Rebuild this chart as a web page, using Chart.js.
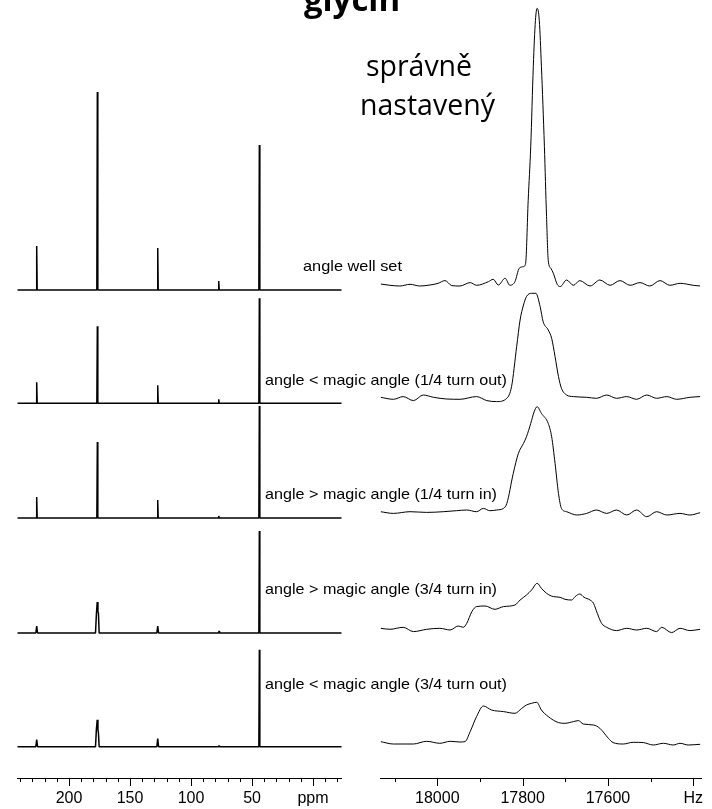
<!DOCTYPE html>
<html>
<head>
<meta charset="utf-8">
<script src="https://cdn.jsdelivr.net/npm/chart.js@4.4.1/dist/chart.umd.min.js"></script>
<style>
  html, body { margin: 0; padding: 0; background: #fff; }
  #wrap { position: relative; width: 712px; height: 809px; overflow: hidden; background: #fff; }
  #wrap canvas { position: absolute; top: 0; }
  #cvL { left: 0; }
  #cvR { left: 360px; }
  #txt { position: absolute; left: 0; top: 0; pointer-events: none; }
</style>
</head>
<body>
<div id="wrap">
  <canvas id="cvL" width="360" height="809" style="width:360px;height:809px"></canvas>
  <canvas id="cvR" width="352" height="809" style="width:352px;height:809px"></canvas>
  <svg id="txt" width="712" height="809" xmlns="http://www.w3.org/2000/svg">
    <g font-family="'Open Sans', 'DejaVu Sans', sans-serif" fill="#000" text-anchor="middle">
      <text x="352" y="11" font-size="33" font-weight="bold">glycin</text>
      <text x="419" y="76" font-size="28.5">správně</text>
      <text x="427.5" y="115" font-size="28.5">nastavený</text>
    </g>
    <g id="specLabels" font-family="'Liberation Sans', Arial, sans-serif" font-size="15" fill="#000"></g>
  </svg>
</div>
<script>
// ---- 13C CP/MAS spectra of glycine (ppm), five rotor-angle settings ----
const ppmSharp = [242.4, 226.9, 226.5, 226.1, 177.2, 176.8, 176.4, 127.7, 127.3, 126.9, 77.7, 77.3, 76.9, 44.4, 44.0, 43.6, -23.5];
const ppmBroad = [242.4, 227.2, 226.5, 225.8, 178.3, 177.6, 176.9, 176.3, 175.9, 175.3, 128.0, 127.3, 126.6, 77.4, 77.0, 76.6, 44.4, 44.0, 43.6, -23.5];

const intWellSet    = [0, 0, 44, 0, 0, 198, 0, 0, 42, 0, 0, 9, 0, 0, 145, 0, 0];
const intQuarterOut = [0, 0, 21, 0, 0, 77, 0, 0, 18, 0, 0, 4, 0, 0, 105, 0, 0];
const intQuarterIn  = [0, 0, 21, 0, 0, 76, 0, 0, 18, 0, 0, 2, 0, 0, 112, 0, 0];
const intThreeIn    = [0, 0, 7, 0, 0, 18, 31, 21, 20, 0, 0, 7, 0, 0, 2, 0, 0, 102, 0, 0];
const intThreeOut   = [0, 0, 7, 0, 0, 17, 27, 17, 14, 0, 0, 8, 0, 0, 1, 0, 0, 97, 0, 0];

// ---- carbonyl line (Hz) for the same five settings ----
const hzWellSet   = [18133, 18111, 18088, 18064, 18041, 18017, 17998, 17982, 17966, 17947, 17923, 17908, 17880, 17869, 17857, 17841, 17830, 17818, 17808, 17798, 17793, 17787, 17781, 17775, 17770, 17766, 17761, 17756, 17749, 17744, 17740, 17734, 17728, 17719, 17712, 17697, 17681, 17666, 17642, 17619, 17595, 17572, 17548, 17525, 17502, 17478, 17455, 17431, 17400, 17384];
const lineWellSet = [1.3, 0, -0.7, 1, -0.7, 0.3, 2, 4.7, -0.3, -0.7, 2.7, 0, 3.7, 6, 0.3, 7, 0, 3.7, 17, 18.7, 22, 85, 139, 219, 265, 277, 265, 219, 139, 69, 25, 17, 12, 1, -1.3, 5.3, 0, 4.7, -0.7, 5.3, 0, 4.7, 0, 2.7, -0.7, 4.7, 0, 2, 0, -0.7];

const hzQuarterOut   = [18133, 18103, 18080, 18056, 18033, 18009, 17978, 17947, 17908, 17884, 17861, 17837, 17826, 17814, 17806, 17798, 17791, 17779, 17769, 17759, 17752, 17740, 17732, 17724, 17716, 17709, 17697, 17681, 17650, 17627, 17603, 17580, 17556, 17533, 17509, 17486, 17462, 17439, 17408, 17384];
const lineQuarterOut = [1, -1, 1.7, -2.3, 3.3, 1, -0.7, -1, 1.7, -2.3, -3.3, 0, 11.7, 51.7, 78.3, 93.3, 101.7, 105, 105, 91.7, 76.7, 68.3, 60, 41.7, 21.7, 10, 3.3, 1.7, 1, 0, 3.3, 0, 1.7, -1, 3.3, 0, 1.7, -1, 1, 1.7];

const hzQuarterIn   = [18133, 18103, 18064, 18025, 17986, 17955, 17931, 17908, 17892, 17877, 17861, 17845, 17837, 17822, 17810, 17798, 17791, 17781, 17773, 17766, 17756, 17740, 17732, 17724, 17716, 17709, 17697, 17673, 17650, 17627, 17603, 17580, 17556, 17533, 17509, 17486, 17462, 17431, 17408, 17384];
const lineQuarterIn = [0, -1.7, 0, -0.7, 0, 1, 1.7, 0, 3.3, 1, 1.7, 3.3, 8.3, 38.3, 58.3, 68.3, 75, 88.3, 100, 105, 98.3, 88.3, 75, 48.3, 18.3, 3.3, 0, -3.3, -1.7, 1.7, -1.7, 1.7, -3.3, 1.7, -5, 0, -3.3, -1.7, -3.3, -1];

const hzThreeIn   = [18133, 18111, 18080, 18056, 18025, 17994, 17970, 17951, 17939, 17931, 17919, 17908, 17888, 17865, 17845, 17818, 17806, 17791, 17779, 17766, 17756, 17744, 17728, 17712, 17701, 17685, 17677, 17666, 17656, 17642, 17634, 17625, 17615, 17603, 17580, 17556, 17533, 17509, 17486, 17474, 17451, 17431, 17408, 17384];
const lineThreeIn = [1, 0, 2, -2.3, 0, 1, -0.7, 3.3, 2, 6, 17.7, 22.7, 23.3, 20, 22.7, 24.3, 29.3, 34.3, 39.3, 46, 41, 36, 32.7, 32, 30, 29.3, 32.7, 35.3, 32, 29.3, 26, 16, 6, 2, -1.3, 1, -0.7, 1, -2.3, 2, -3.3, 1, -1.3, 0];

const hzThreeOut   = [18133, 18103, 18056, 18025, 17994, 17970, 17947, 17935, 17923, 17908, 17892, 17873, 17845, 17818, 17802, 17791, 17779, 17767, 17756, 17740, 17716, 17701, 17681, 17669, 17658, 17634, 17619, 17599, 17588, 17564, 17541, 17517, 17494, 17470, 17447, 17431, 17412, 17384];
const lineThreeOut = [1.7, -0.7, -0.7, 2, 0, 2, 1.3, 1.7, 11.7, 26.7, 37.3, 33.3, 31.7, 30, 35, 38.3, 40, 41, 33.3, 26.7, 20.7, 20, 21.7, 22.7, 19.3, 18.3, 15, 5, 0.7, -0.7, 1, 0.7, -1.7, 0, -1.7, 0, -1.7, -1];

const spectrumLabels = [
  'angle well set',
  'angle < magic angle (1/4 turn out)',
  'angle > magic angle (1/4 turn in)',
  'angle > magic angle (3/4 turn in)',
  'angle < magic angle (3/4 turn out)'
];

// axis ticks
const ppmTicks = [-20, -10, 0, 10, 20, 30, 40, 50, 60, 70, 80, 90, 100, 110, 120, 130, 140, 150, 160, 170, 180, 190, 200, 210, 220, 230, 240];
const hzTicks  = [17400, 17500, 17600, 17700, 17800, 17900, 18000, 18100];

// ---- layout of the stack ----
const PLOT_H = 778;                                   // y units == pixels of the plot area
const leftOffsets  = [488, 374.7, 260, 145, 31.3];    // vertical shift of each trace
const rightOffsets = [492.7, 379.7, 266.3, 148.7, 34.7];
const labelSpots = [[303, 270.5, 99], [265, 385, 242], [265, 499, 232], [265, 594, 232], [265, 689, 242]];

const leftSeries = [
  [ppmSharp, intWellSet], [ppmSharp, intQuarterOut], [ppmSharp, intQuarterIn],
  [ppmBroad, intThreeIn], [ppmBroad, intThreeOut]
];
const rightSeries = [
  [hzWellSet, lineWellSet], [hzQuarterOut, lineQuarterOut], [hzQuarterIn, lineQuarterIn],
  [hzThreeIn, lineThreeIn], [hzThreeOut, lineThreeOut]
];

// short minor / long major tick marks below the axis line
const tickMarks = {
  id: 'tickMarks',
  afterDraw(chart) {
    const s = chart.scales.x, ctx = chart.ctx;
    ctx.save();
    ctx.strokeStyle = '#000';
    ctx.lineWidth = 1;
    s.ticks.forEach(t => {
      const x = Math.round(s.getPixelForValue(t.value)) + 0.5;
      const len = t.label !== '' ? 8 : 4;
      ctx.beginPath();
      ctx.moveTo(x, Math.round(s.top));
      ctx.lineTo(x, Math.round(s.top) + len);
      ctx.stroke();
    });
    ctx.restore();
  }
};

function makeOptions(xmin, xmax, tickVals, labelFn, padL, padR) {
  return {
    responsive: false,
    animation: false,
    devicePixelRatio: 1,
    layout: { padding: { left: padL, right: padR, top: 0, bottom: 0 } },
    plugins: { legend: { display: false }, tooltip: { enabled: false }, title: { display: false } },
    elements: { point: { radius: 0 } },
    scales: {
      x: {
        type: 'linear', reverse: true, min: xmin, max: xmax,
        afterBuildTicks: s => { s.ticks = tickVals.map(v => ({ value: v })); },
        afterFit: s => { s.height = 809 - PLOT_H; },
        grid: { display: false, drawTicks: false },
        border: { display: true, color: '#000', width: 1 },
        ticks: {
          autoSkip: false, maxRotation: 0, minRotation: 0, padding: 11, color: '#000',
          font: { family: "'Liberation Sans', Arial, sans-serif", size: 16 },
          callback: labelFn
        }
      },
      y: { display: false, min: 0, max: PLOT_H }
    }
  };
}

function buildSets(series, offsets, width, smooth) {
  return series.map(([xs, ys], k) => ({
    data: xs.map((x, i) => ({ x: x, y: offsets[k] + ys[i] })),
    borderColor: '#000',
    borderWidth: width,
    borderJoinStyle: 'bevel',
    pointRadius: 0,
    fill: false,
    cubicInterpolationMode: smooth ? 'monotone' : 'default',
    tension: 0
  }));
}

new Chart(document.getElementById('cvL'), {
  type: 'line',
  data: { datasets: buildSets(leftSeries, leftOffsets, 1.5, false) },
  options: makeOptions(-23.5, 242.4, ppmTicks,
    v => (v === 0 ? 'ppm' : (v > 0 && v % 50 === 0 ? String(v) : '')), 17.3, 18.3),
  plugins: [tickMarks]
});

new Chart(document.getElementById('cvR'), {
  type: 'line',
  data: { datasets: buildSets(rightSeries, rightOffsets, 1, true) },
  options: makeOptions(17380.3, 18132.7, hzTicks,
    v => (v === 17400 ? 'Hz' : (v % 200 === 0 ? String(v) : '')), 20.7, 10.3),
  plugins: [tickMarks]
});

// trace captions
const g = document.getElementById('specLabels');
spectrumLabels.forEach((txt, k) => {
  const [x, y, w] = labelSpots[k];
  const t = document.createElementNS('http://www.w3.org/2000/svg', 'text');
  t.setAttribute('x', x);
  t.setAttribute('y', y);
  t.setAttribute('textLength', w);
  t.setAttribute('lengthAdjust', 'spacingAndGlyphs');
  t.textContent = txt;
  g.appendChild(t);
});
</script>
</body>
</html>
